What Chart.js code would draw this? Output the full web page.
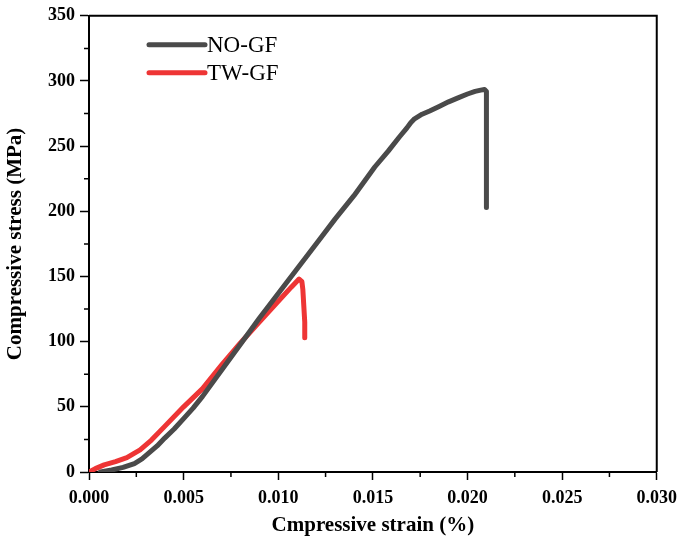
<!DOCTYPE html>
<html>
<head>
<meta charset="utf-8">
<script src="https://cdn.jsdelivr.net/npm/chart.js@4.4.1/dist/chart.umd.min.js"></script>
<style>
  html, body { margin: 0; padding: 0; background: #fff; }
  #box { width: 685px; height: 547px; }
</style>
</head>
<body>
<div id="box"><canvas id="stressStrainChart" width="685" height="547"></canvas></div>
<script>
// values
const noStrain = [0.0006, 0.0012, 0.0018, 0.0024, 0.0028, 0.0032, 0.0036, 0.0040, 0.0045, 0.0050, 0.0055, 0.0060,
                  0.0065, 0.0073, 0.0081, 0.0090, 0.0100, 0.0110, 0.0120, 0.0130, 0.0140, 0.0151, 0.0158, 0.0164,
                  0.0168, 0.0170, 0.0172, 0.0176, 0.0180, 0.0185, 0.0190, 0.0195, 0.0200, 0.0204, 0.0207, 0.0209,
                  0.0210, 0.0210];
const noStress = [0, 1.5, 3.5, 6.5, 10, 15, 20, 26, 33, 41, 49, 58,
                  68, 84, 100, 118, 137, 156, 175, 194, 212, 234, 246, 257,
                  264, 268, 271, 274.5, 277, 280.5, 284, 287, 290, 292, 293, 293.5,
                  292, 203];

const twStrain = [0.0000, 0.0004, 0.0008, 0.0014, 0.0020, 0.0027, 0.0033, 0.0040, 0.0050, 0.0060, 0.0070,
                  0.0080, 0.0090, 0.0100, 0.0107, 0.0111, 0.01125, 0.0113, 0.0114, 0.0114];
const twStress = [0, 3, 5.5, 8, 11, 17, 24.5, 35, 50, 64, 82,
                  99, 115, 131, 142, 148, 146, 140, 115, 103];

const xTicks = [0, 0.005, 0.010, 0.015, 0.020, 0.025, 0.030];
const yTicks = [0, 50, 100, 150, 200, 250, 300, 350];

const serif = '"Liberation Serif", "Times New Roman", serif';

function toPoints(xs, ys) {
    return xs.map((x, i) => ({ x: x, y: ys[i] }));
}

// frame, minor ticks and the legend in the top-left corner
const extras = {
    id: 'extras',
    afterDraw(chart) {
        const ctx = chart.ctx;
        const a = chart.chartArea;
        const xs = chart.scales.x;
        const ys = chart.scales.y;
        ctx.save();
        ctx.strokeStyle = '#000';
        ctx.lineWidth = 2;
        ctx.beginPath();
        ctx.moveTo(a.left, a.top);
        ctx.lineTo(a.right, a.top);
        ctx.lineTo(a.right, a.bottom);
        ctx.stroke();

        ctx.lineWidth = 1.5;
        ctx.beginPath();
        for (let i = 0; i < xTicks.length - 1; i++) {
            const px = xs.getPixelForValue((xTicks[i] + xTicks[i + 1]) / 2);
            ctx.moveTo(px, a.bottom);
            ctx.lineTo(px, a.bottom + 5);
        }
        for (let i = 0; i < yTicks.length - 1; i++) {
            const py = ys.getPixelForValue((yTicks[i] + yTicks[i + 1]) / 2);
            ctx.moveTo(a.left, py);
            ctx.lineTo(a.left - 5, py);
        }
        ctx.stroke();

        ctx.font = '23px ' + serif;
        ctx.textBaseline = 'middle';
        ctx.fillStyle = '#000';
        chart.data.datasets.forEach((ds, i) => {
            const y = a.top + 29 + i * 28;
            ctx.strokeStyle = ds.borderColor;
            ctx.lineWidth = 5;
            ctx.lineCap = 'round';
            ctx.beginPath();
            ctx.moveTo(a.left + 60, y);
            ctx.lineTo(a.left + 116, y);
            ctx.stroke();
            ctx.fillText(ds.label, a.left + 118, y + 1);
        });
        ctx.restore();
    }
};

const ctx = document.getElementById('stressStrainChart').getContext('2d');
const stressStrainChart = new Chart(ctx, {
    type: 'line',
    data: {
        datasets: [
            {
                label: 'NO-GF',
                data: toPoints(noStrain, noStress),
                borderColor: '#4a4a4a',
                borderWidth: 5,
                pointRadius: 0,
                fill: false
            },
            {
                label: 'TW-GF',
                data: toPoints(twStrain, twStress),
                borderColor: '#ee3535',
                borderWidth: 5,
                pointRadius: 0,
                fill: false
            }
        ]
    },
    options: {
        responsive: false,
        animation: false,
        devicePixelRatio: 1,
        layout: { padding: { top: 14, right: 25, left: 0, bottom: 0 } },
        elements: { line: { tension: 0, borderJoinStyle: 'round', borderCapStyle: 'round' } },
        plugins: {
            legend: { display: false },
            tooltip: { enabled: false }
        },
        scales: {
            x: {
                type: 'linear',
                min: 0,
                max: 0.03,
                afterBuildTicks: scale => { scale.ticks = xTicks.map(v => ({ value: v })); },
                afterFit: scale => { scale.height = 75; },
                ticks: {
                    callback: v => Number(v).toFixed(3),
                    color: '#000',
                    font: { family: serif, size: 18, weight: 'bold' },
                    padding: 8,
                    maxRotation: 0
                },
                grid: { drawOnChartArea: false, drawTicks: true, tickLength: 8, tickWidth: 1.5, tickColor: '#000' },
                border: { color: '#000', width: 2 },
                title: {
                    display: true,
                    text: 'Cmpressive strain (%)',
                    color: '#000',
                    font: { family: serif, size: 21, weight: 'bold' },
                    padding: { top: 2, bottom: 9 }
                }
            },
            y: {
                min: 0,
                max: 350,
                afterBuildTicks: scale => { scale.ticks = yTicks.map(v => ({ value: v })); },
                afterFit: scale => { scale.width = 89; },
                ticks: {
                    color: '#000',
                    font: { family: serif, size: 18, weight: 'bold' },
                    padding: 5
                },
                grid: { drawOnChartArea: false, drawTicks: true, tickLength: 9, tickWidth: 1.5, tickColor: '#000' },
                border: { color: '#000', width: 2 },
                title: {
                    display: true,
                    text: 'Compressive stress (MPa)',
                    color: '#000',
                    font: { family: serif, size: 21, weight: 'bold' },
                    padding: { top: 3, bottom: 2 }
                }
            }
        }
    },
    plugins: [extras]
});
</script>
</body>
</html>
